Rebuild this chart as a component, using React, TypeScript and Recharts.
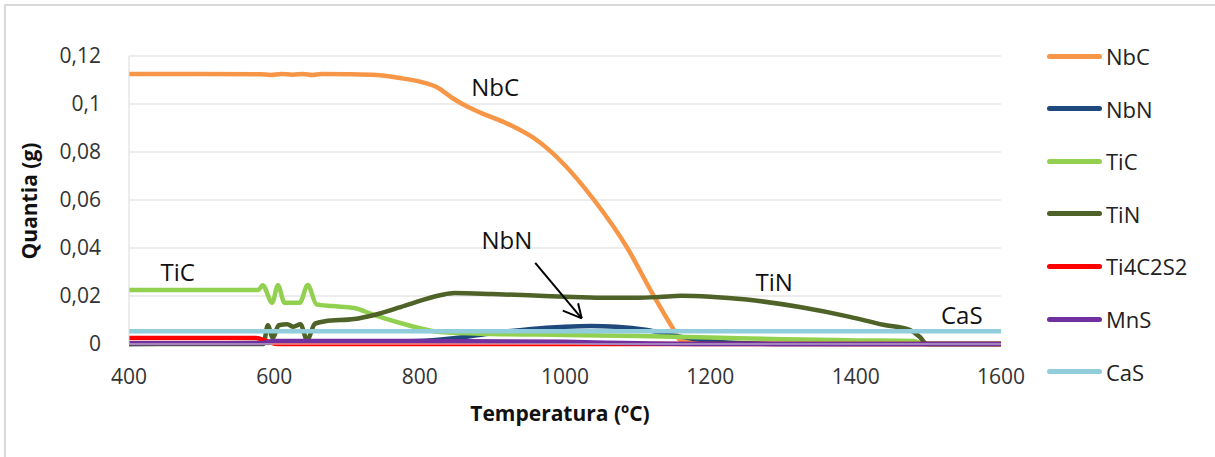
import React from 'react';
import { LineChart, Line, XAxis, YAxis, CartesianGrid, ReferenceDot, ReferenceLine } from 'recharts';

// temperature (ºC), quantity (g)
const nbc: [number, number][] = [
  [400, 0.1125], [500, 0.1125], [580, 0.1124], [595, 0.1121], [610, 0.1125], [625, 0.1122],
  [640, 0.1125], [652, 0.1121], [665, 0.1125], [700, 0.1124], [740, 0.1121], [773, 0.1108],
  [800, 0.1093], [825, 0.1068], [845, 0.1025], [868, 0.0985], [885, 0.0962], [925, 0.0912],
  [960, 0.0852], [990, 0.0775], [1040, 0.06], [1085, 0.0404], [1120, 0.0212], [1150, 0.0058],
  [1160, 0.0012], [1200, 0.0004], [1300, 0.0001], [1600, 0],
];
const nbn: [number, number][] = [
  [400, 0], [600, 0.0005], [800, 0.0012], [850, 0.0025], [900, 0.0045], [950, 0.0062],
  [1000, 0.0072], [1035, 0.0075], [1070, 0.0072], [1113, 0.0058], [1150, 0.0035],
  [1200, 0.0012], [1250, 0.0003], [1300, 0], [1600, 0],
];
const tic: [number, number][] = [
  [400, 0.0225], [578, 0.0225], [584, 0.0245], [597, 0.0172], [605, 0.0245], [614, 0.0172],
  [635, 0.0172], [646, 0.0246], [658, 0.0165], [680, 0.0158], [710, 0.015], [736, 0.0122],
  [782, 0.008], [828, 0.005], [900, 0.0042], [1000, 0.0038], [1100, 0.0033], [1200, 0.0027],
  [1300, 0.002], [1400, 0.0015], [1480, 0.0012], [1495, 0], [1600, 0],
];
const tin: [number, number][] = [
  [400, 0], [585, 0], [591, 0.0078], [598, 0.0025], [606, 0.0078], [618, 0.0082], [626, 0.0072],
  [636, 0.0082], [645, 0.0017], [656, 0.0085], [670, 0.0095], [710, 0.0104], [736, 0.012],
  [780, 0.016], [828, 0.0203], [848, 0.0212], [900, 0.0208], [950, 0.0203], [1000, 0.0197],
  [1050, 0.0193], [1100, 0.0193], [1130, 0.0196], [1160, 0.0201], [1200, 0.0197], [1250, 0.0185],
  [1323, 0.0154], [1392, 0.0113], [1438, 0.008], [1475, 0.0058], [1488, 0.003], [1498, 0], [1600, 0],
];
const ti4c2s2: [number, number][] = [[400, 0.0025], [575, 0.0025], [590, 0.0012], [605, 0], [1600, 0]];
const mns: [number, number][] = [
  [400, 0.0003], [580, 0.0003], [600, 0.0013], [800, 0.0013], [1000, 0.0009], [1100, 0.0003],
  [1200, 0], [1600, 0],
];
const cas: [number, number][] = [[400, 0.0053], [1600, 0.0053]];

const xTicks = [400, 600, 800, 1000, 1200, 1400, 1600];
const yTicks = [0, 0.02, 0.04, 0.06, 0.08, 0.1, 0.12];

const series = [
  { name: 'NbC', color: '#f79646', pts: nbc },
  { name: 'NbN', color: '#1f497d', pts: nbn },
  { name: 'TiC', color: '#92d050', pts: tic },
  { name: 'TiN', color: '#4f6228', pts: tin },
  { name: 'Ti4C2S2', color: '#ff0000', pts: ti4c2s2 },
  { name: 'MnS', color: '#7030a0', pts: mns },
  { name: 'CaS', color: '#92cddc', pts: cas },
];

const notes = [
  { text: 'NbC', x: 904, y: 0.1067 },
  { text: 'TiC', x: 467, y: 0.03 },
  { text: 'NbN', x: 920, y: 0.0433 },
  { text: 'TiN', x: 1288, y: 0.0258 },
  { text: 'CaS', x: 1546, y: 0.0117 },
];
// arrow NbN label -> curve: shaft, then the two arms of the head
const arrow = [
  [{ x: 959, y: 0.0338 }, { x: 1023, y: 0.0107 }],
  [{ x: 997, y: 0.0139 }, { x: 1023, y: 0.0107 }],
  [{ x: 1018, y: 0.017 }, { x: 1023, y: 0.0107 }],
];

const font = '"Open Sans", sans-serif';
const tickStyle = { fontSize: 21, fill: '#333', fontFamily: font };

const App = () => {
  return (
    <div style={{ position: 'absolute', left: 0, top: 0, width: 1215, height: 457, overflow: 'hidden', background: '#fff', fontFamily: font }}>
      <div style={{ position: 'absolute', left: 4, top: 4, width: 1400, height: 700, border: '2px solid #d9d9d9' }} />
      <div style={{ position: 'absolute', left: 0, top: 0 }}>
        <LineChart width={1215} height={457} margin={{ top: 56, right: 214, bottom: 73, left: 69 }}>
          <CartesianGrid stroke="#d9d9d9" vertical={false} />
          <XAxis
            type="number"
            dataKey="t"
            domain={[400, 1600]}
            ticks={xTicks}
            tickLine={false}
            axisLine={{ stroke: '#d9d9d9' }}
            tick={tickStyle}
            tickMargin={19}
            height={40}
            allowDuplicatedCategory={false}
          />
          <YAxis
            type="number"
            domain={[0, 0.12]}
            ticks={yTicks}
            tickLine={false}
            axisLine={{ stroke: '#d9d9d9' }}
            tick={tickStyle}
            tickMargin={22}
            width={60}
            tickFormatter={(v: number) => String(v).replace('.', ',')}
          />
          {series.map((s) => (
            <Line
              key={s.name}
              data={s.pts.map(([t, v]) => ({ t, v }))}
              dataKey="v"
              type="monotone"
              stroke={s.color}
              strokeWidth={4.5}
              dot={false}
              activeDot={false}
              isAnimationActive={false}
            />
          ))}
          {arrow.map((seg, i) => (
            <ReferenceLine key={i} segment={seg} stroke="#000" strokeWidth={2} />
          ))}
          {notes.map((n) => (
            <ReferenceDot
              key={n.text}
              x={n.x}
              y={n.y}
              r={0}
              fill="none"
              stroke="none"
              label={{ value: n.text, position: 'center', fontSize: 24, fill: '#111', fontFamily: font }}
            />
          ))}
        </LineChart>
      </div>
      <div
        style={{
          position: 'absolute', left: 29, top: 201, transform: 'translate(-50%, -50%) rotate(-90deg)',
          fontSize: 21, fontWeight: 'bold', whiteSpace: 'nowrap', color: '#111',
        }}
      >
        Quantia (g)
      </div>
      <div
        style={{
          position: 'absolute', left: 560, top: 413, transform: 'translate(-50%, -50%)',
          fontSize: 21, fontWeight: 'bold', whiteSpace: 'nowrap', color: '#111',
        }}
      >
        Temperatura (ºC)
      </div>
      {series.map((s, i) => (
        <div
          key={s.name}
          style={{ position: 'absolute', left: 1047, top: 56 + i * 52.6, transform: 'translateY(-50%)', display: 'flex', alignItems: 'center' }}
        >
          <div style={{ width: 55, height: 5, borderRadius: 3, background: s.color }} />
          <span style={{ marginLeft: 4, fontSize: 22, color: '#222', lineHeight: 1 }}>{s.name}</span>
        </div>
      ))}
    </div>
  );
};

export default App;
